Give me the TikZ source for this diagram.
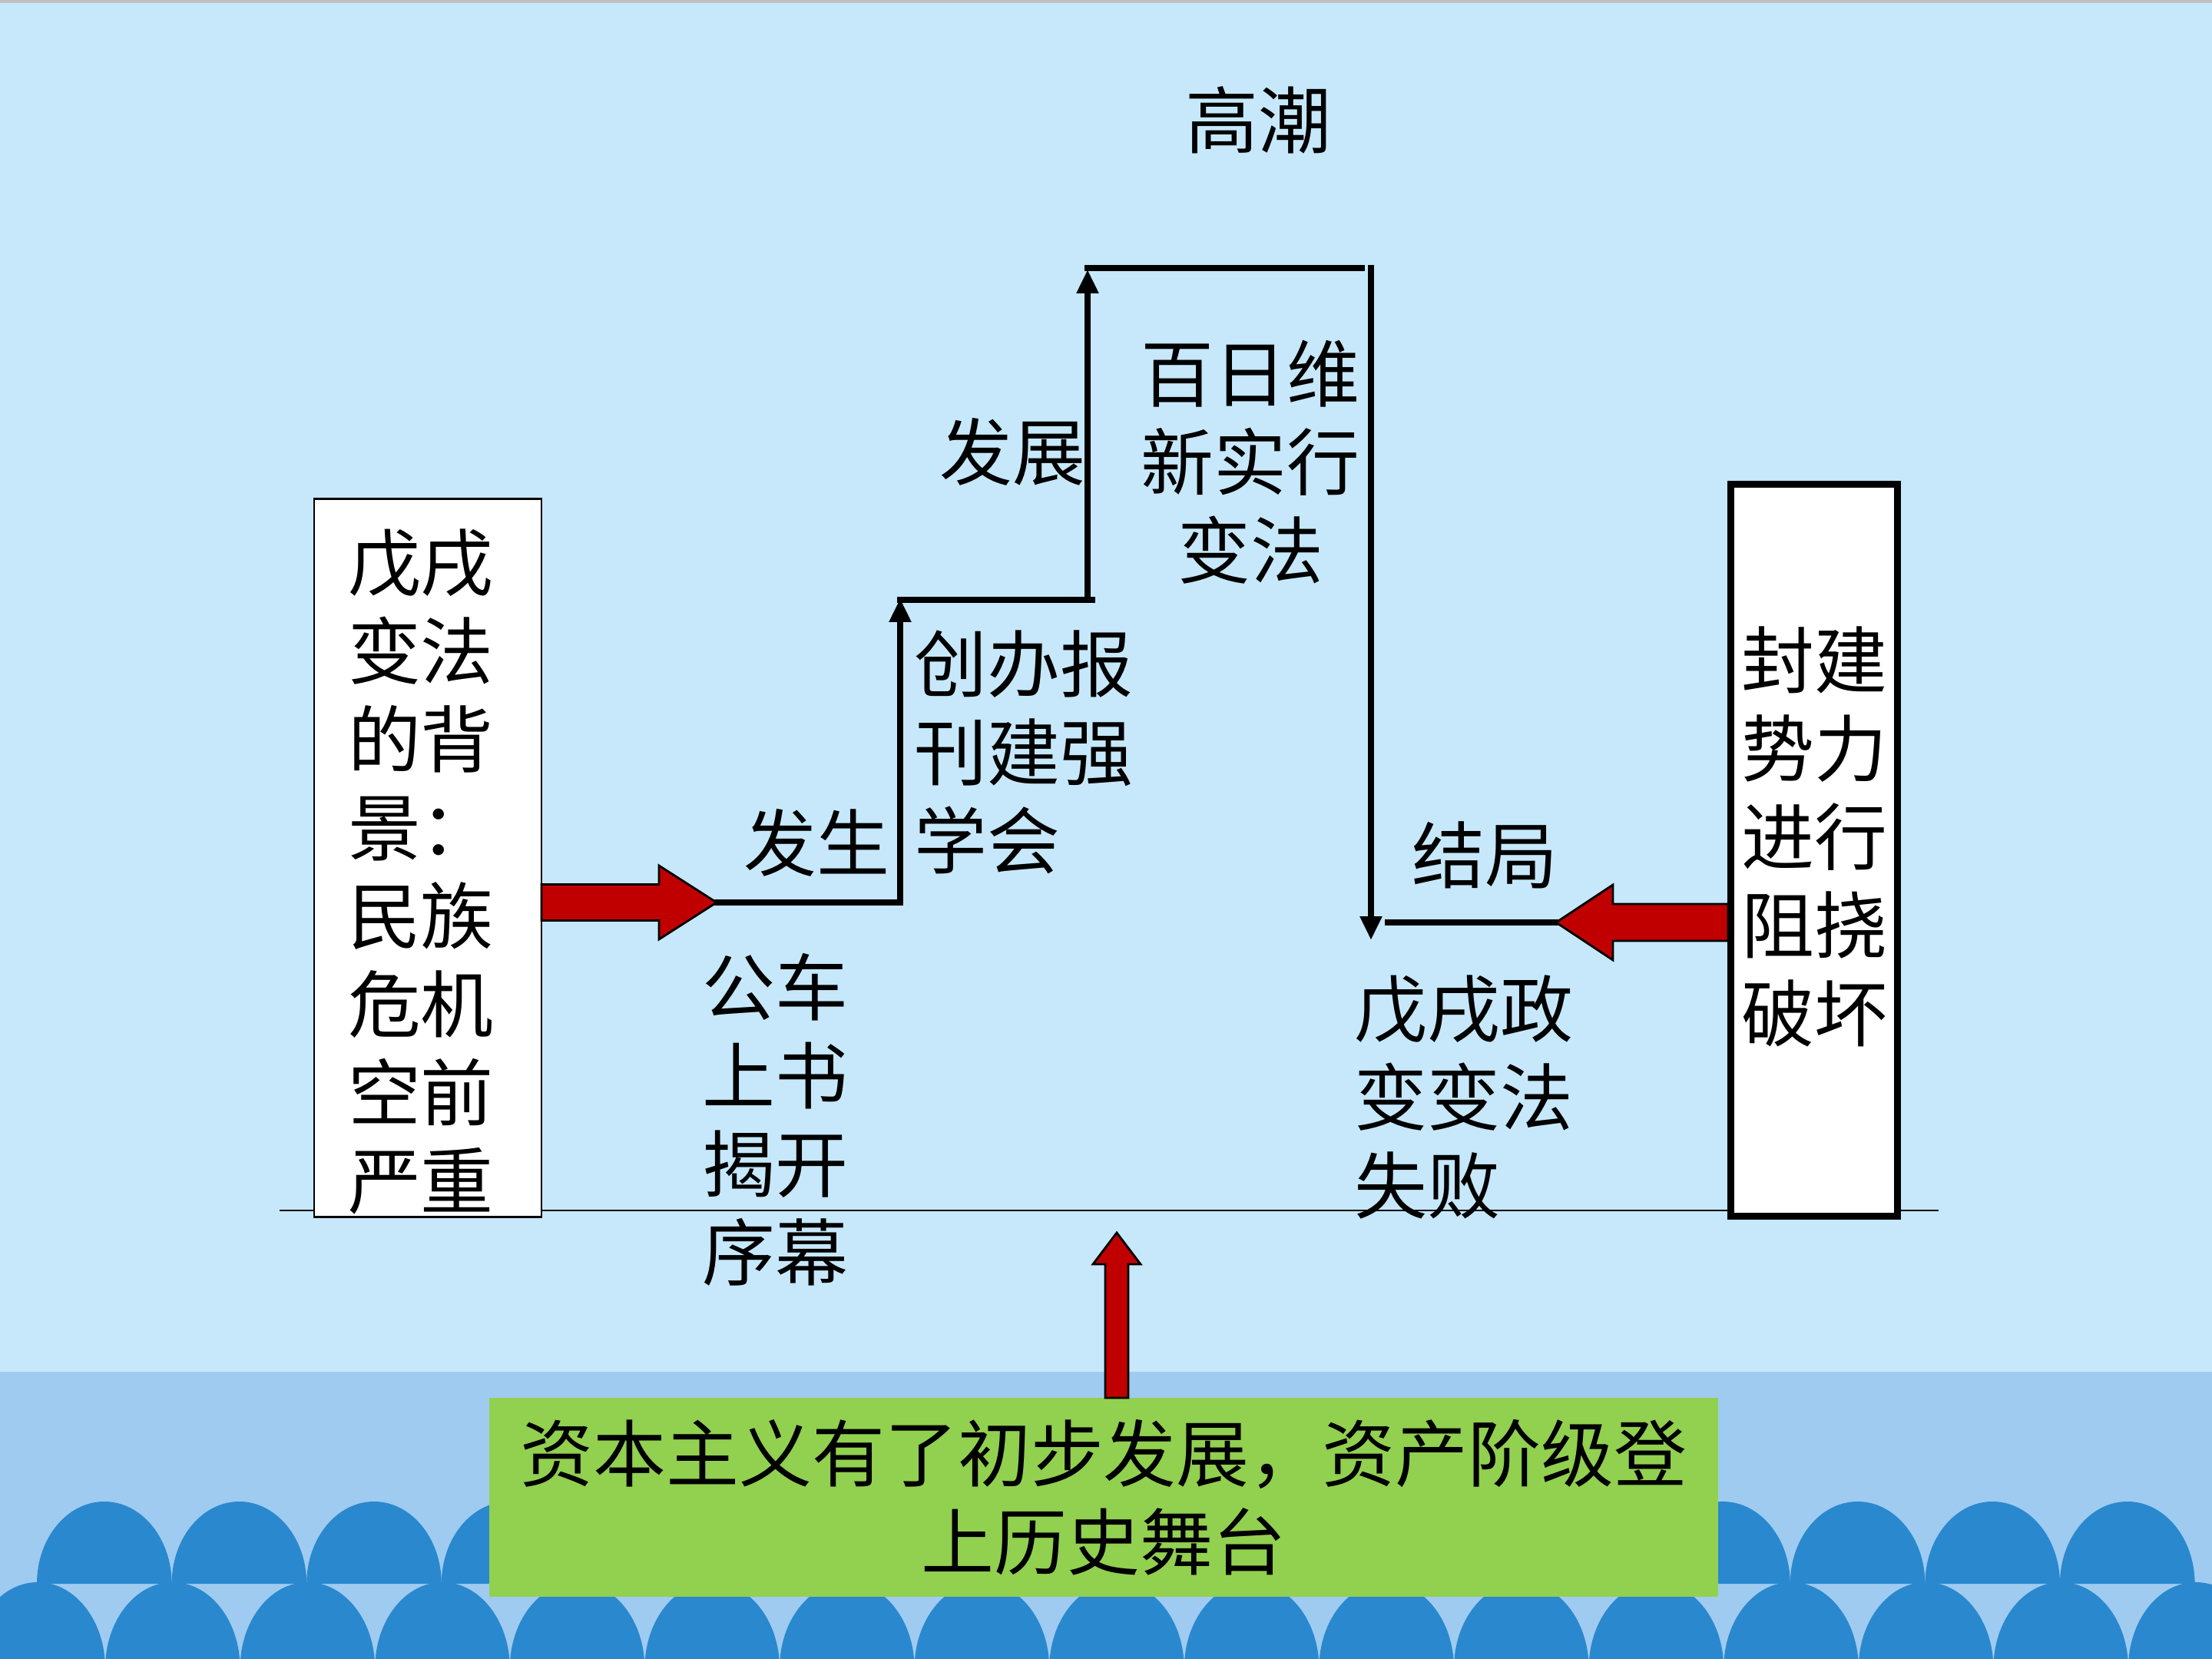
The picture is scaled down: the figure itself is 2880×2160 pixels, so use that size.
\documentclass[tikz,border=0pt]{standalone}
\usepackage{fontspec}
\setmainfont{Noto Sans CJK SC}
\usetikzlibrary{arrows.meta,positioning}

\definecolor{skyblue}{HTML}{C6E8FA}
\definecolor{seablue}{HTML}{9FCBF0}
\definecolor{wave}{HTML}{2A88CE}
\definecolor{topgray}{HTML}{C0C0C0}
\definecolor{leafgreen}{HTML}{92D050}
\definecolor{arrowred}{HTML}{C00000}

\begin{document}
\begin{tikzpicture}[x=0.01cm,y=-0.01cm,
  word/.style={font=\fontsize{27pt}{32.7pt}\selectfont,inner sep=0pt},
  side box/.style={draw,fill=white},
  box text/.style={word,align=center},
  flat/.style={line width=2.3pt,line cap=rect},
  rise/.style={flat,-{Triangle[length=8.8pt,width=7.7pt]}},
  push/.style={fill=arrowred,draw=black,line width=0.8pt,line join=miter}]

  %background and sea%
  \useasboundingbox (0,0) rectangle (2880,2160);
  \fill[skyblue] (0,0) rectangle (2880,2160);
  \fill[topgray] (0,0) rectangle (2880,4);
  \fill[seablue] (0,1786) rectangle (2880,2160);
  \foreach \k in {0,...,16}
    \fill[wave] ({-38.6+175.6*\k},2172) arc[start angle=180,end angle=360,x radius=87.8,y radius=112];
  \foreach \k in {0,...,15}
    \fill[wave] ({48+175.6*\k},2062) arc[start angle=180,end angle=360,x radius=87.8,y radius=107];

  %ground line%
  \draw[line width=0.65pt] (364,1576) -- (2524,1576);

  %boxes%
  \node[side box,line width=0.8pt,minimum width=2.96cm,minimum height=9.35cm,
    label={[box text,xshift=-0.09cm,yshift=-0.18cm]center:{戊戌\\变法\\的背\\景：\\民族\\危机\\空前\\严重}}]
    (cause) at (557,1117) {};
  \node[side box,line width=2.56pt,minimum width=2.16cm,minimum height=9.52cm,
    label={[box text,yshift=0.18cm]center:{封建\\势力\\进行\\阻挠\\破坏}}]
    (resist) at (2362,1107) {};
  \node[word,fill=leafgreen,minimum width=16cm,minimum height=2.59cm,align=center] (ground) at (1437,1949.5)
    {资本主义有了初步发展，资产阶级登\\上历史舞台};

  %labels%
  \node[word] (peak) at (1638,156) {高潮};
  \node[word,anchor=east] (develop) at (1414,588) {发展};
  \node[word,align=center] (reform) at (1628,602) {百日维\\新实行\\变法};
  \node[word,align=left,anchor=west] (press) at (1190,979) {创办报\\刊建强\\学会};
  \node[word,anchor=east] (begin) at (1159,1097) {发生};
  \node[word,align=left,anchor=west] (petition) at (914,1458) {公车\\上书\\揭开\\序幕};
  \node[word] (outcome) at (1933,1113) {结局};
  \node[word,align=left,anchor=west] (coup) at (1763,1428) {戊戌政\\变变法\\失败};

  %steps%
  \coordinate (s0) at (933,1175);
  \coordinate (a1) at (1172,1175);
  \coordinate (a2) at (1172,779);
  \coordinate (b1) at (1172,781);
  \coordinate (b2) at (1422,781);
  \coordinate (c1) at (1416,781);
  \coordinate (c2) at (1416,351);
  \coordinate (d1) at (1416,349);
  \coordinate (d2) at (1773,349);
  \coordinate (e1) at (1785,349);
  \coordinate (e2) at (1785,1224);
  \coordinate (f1) at (1807,1201);
  \coordinate (f2) at (2026,1201);
  \coordinate (u0) at (1454,1605);

  \draw[flat] (s0) -- (a1);
  \draw[rise] (a1) -- (a2);
  \draw[flat] (b1) -- (b2);
  \draw[rise] (c1) -- (c2);
  \draw[flat] (d1) -- (d2);
  \draw[rise] (e1) -- (e2);
  \draw[flat] (f1) -- (f2);

  %red arrows%
  \draw[push] (s0) -- ++(-75,-48) -- ++(0,24.5) -- ++(-153,0) -- ++(0,47) -- ++(153,0) -- ++(0,24.5) -- cycle;
  \draw[push] (f2) -- ++(74,-49) -- ++(0,25) -- ++(150,0) -- ++(0,48) -- ++(-150,0) -- ++(0,25) -- cycle;
  \draw[push] (u0) -- ++(31,41) -- ++(-16,0) -- ++(0,174) -- ++(-30,0) -- ++(0,-174) -- ++(-16,0) -- cycle;

\end{tikzpicture}
\end{document}
